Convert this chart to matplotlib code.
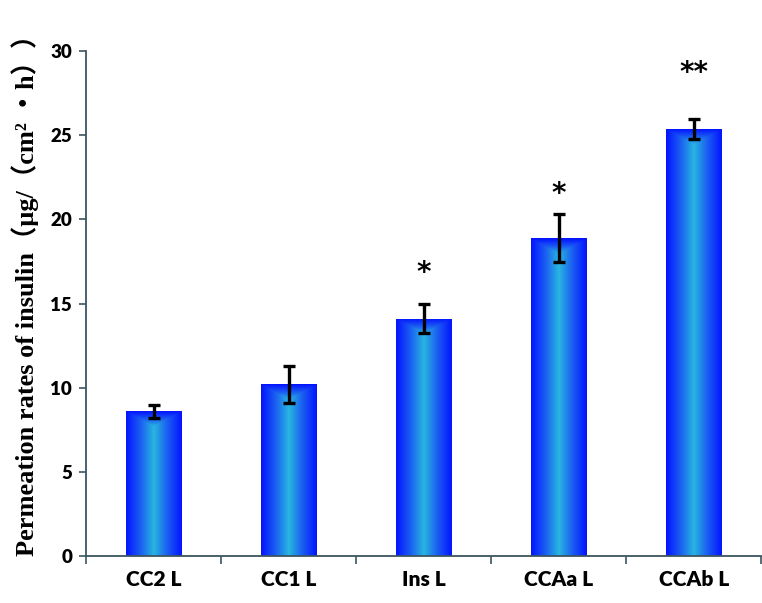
import numpy as np
import matplotlib
matplotlib.use("Agg")
import matplotlib.pyplot as plt
from matplotlib.colors import LinearSegmentedColormap

categories = ["CC2 L", "CC1 L", "Ins L", "CCAa L", "CCAb L"]
values = [8.6, 10.2, 14.1, 18.9, 25.4]
errors = [0.4, 1.1, 0.85, 1.4, 0.6]
stars = ["", "", "*", "*", "**"]
star_y = [None, None, 16.8, 21.5, 28.7]

fig = plt.figure(figsize=(7.62, 6.03), dpi=100)
ax = fig.add_axes([0.113, 0.078, 0.886, 0.837])

x = np.arange(len(categories))
width = 0.41
bars = ax.bar(x, values, width=width, color="#1030ff", zorder=2, edgecolor="none")

cmap = LinearSegmentedColormap.from_list("g", ["#0414ff", "#1a5cf2", "#28b6e0", "#1a5cf2", "#0414ff"])
xs = np.linspace(0, 1, 200)
horiz = np.abs(xs - 0.5) * 2
for b, v in zip(bars, values):
    ny = 200
    ys = np.linspace(0, 1, ny)[:, None]
    topfade = np.clip((ys - (1 - 0.9 / v)) / (0.9 / v), 0, 1)
    t = np.clip(np.maximum(horiz[None, :], topfade), 0, 1)
    grad = 0.5 - 0.5 * t
    im = ax.imshow(grad, cmap=cmap, vmin=0, vmax=1, aspect="auto",
                   extent=[b.get_x(), b.get_x() + b.get_width(), 0, v],
                   origin="lower", zorder=2, interpolation="bilinear")
    im.set_clip_path(b)

ax.errorbar(x, values, yerr=errors, fmt="none", ecolor="black", elinewidth=2.4,
            capsize=4, capthick=2.4, zorder=3)

for xi, s, sy in zip(x, stars, star_y):
    if s:
        ax.text(xi, sy, s, ha="center", va="center", fontsize=20, fontweight="heavy",
                family=["DejaVu Sans"])

ax.set_xlim(-0.5, len(categories) - 0.5)
ax.set_ylim(0, 30)
ax.set_yticks(np.arange(0, 31, 5))
ax.set_yticklabels([str(v) for v in range(0, 31, 5)], fontsize=13.5, fontweight="heavy",
                   family=["Lato", "DejaVu Sans"])
ax.set_xticks(np.arange(-0.5, len(categories), 1.0))
ax.set_xticklabels([])
ax.set_xticks(x, minor=True)
ax.set_xticklabels(categories, minor=True, fontsize=15, fontweight="heavy",
                   family=["Lato", "DejaVu Sans"])
ax.tick_params(axis="x", which="minor", length=0, pad=10)
ax.tick_params(axis="x", which="major", length=6, width=1.2, color="#3c5560", direction="out")
ax.tick_params(axis="y", length=5, width=1.2, color="#3c5560", direction="out", pad=5)

for sp in ["top", "right"]:
    ax.spines[sp].set_visible(False)
for sp in ["left", "bottom"]:
    ax.spines[sp].set_color("#3c5560")
    ax.spines[sp].set_linewidth(1.3)

ax.set_ylabel("Permeation rates of insulin（μg/（cm² ・h））", fontsize=19,
              fontweight="bold", family=["Liberation Serif", "Noto Sans CJK SC"])
ax.yaxis.label.set_horizontalalignment("left")
ax.yaxis.set_label_coords(-0.07, 0.0)

fig.savefig("out.png", dpi=100)
